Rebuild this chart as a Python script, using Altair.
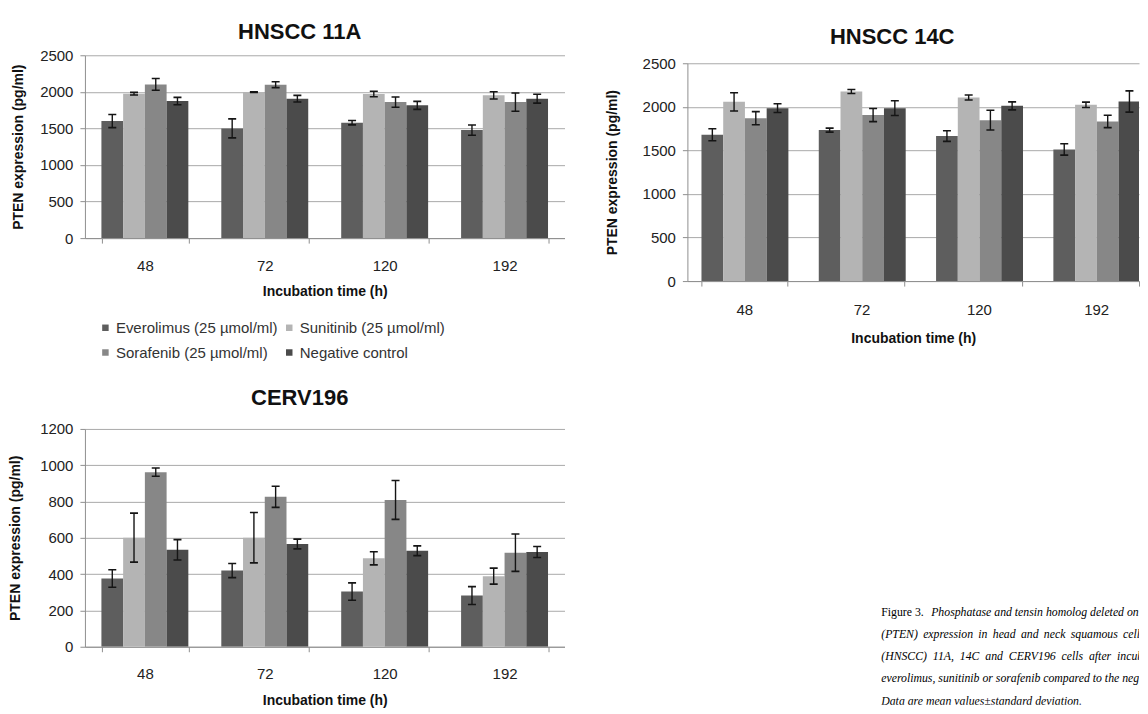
import altair as alt
import pandas as pd

FONT = "Liberation Sans"
SERIF = "Liberation Serif"

times = ["48", "72", "120", "192"]
treatments = ["Everolimus (25 µmol/ml)", "Sunitinib (25 µmol/ml)",
              "Sorafenib (25 µmol/ml)", "Negative control"]
bar_colors = ["#5e5e5e", "#b4b4b4", "#878787", "#4b4b4b"]

# HNSCC 11A (mean, SD) per incubation time
h11a_everolimus = [1600, 1500, 1578, 1477]
h11a_sunitinib = [1974, 1997, 1970, 1952]
h11a_sorafenib = [2102, 2098, 1860, 1860]
h11a_control = [1874, 1906, 1815, 1906]
h11a_everolimus_sd = [90, 130, 30, 70]
h11a_sunitinib_sd = [18, 5, 38, 50]
h11a_sorafenib_sd = [80, 40, 70, 125]
h11a_control_sd = [50, 45, 55, 60]

# HNSCC 14C
h14c_everolimus = [1679, 1733, 1664, 1511]
h14c_sunitinib = [2057, 2176, 2107, 2023]
h14c_sorafenib = [1870, 1905, 1847, 1832]
h14c_control = [1985, 1985, 2011, 2061]
h14c_everolimus_sd = [69, 23, 61, 65]
h14c_sunitinib_sd = [105, 23, 29, 31]
h14c_sorafenib_sd = [75, 75, 113, 71]
h14c_control_sd = [50, 84, 46, 122]

# CERV196
cerv_everolimus = [376, 420, 304, 282]
cerv_sunitinib = [601, 601, 487, 389]
cerv_sorafenib = [962, 826, 809, 518]
cerv_control = [534, 566, 529, 522]
cerv_everolimus_sd = [48, 39, 48, 49]
cerv_sunitinib_sd = [135, 139, 36, 44]
cerv_sorafenib_sd = [23, 58, 107, 103]
cerv_control_sd = [56, 27, 27, 30]

caption_label = ["Figure 3."]
caption_first = ["Phosphatase and tensin homolog deleted on chromosome 10"]
caption_lines = [
    "(PTEN) \u2009expression \u2009in \u2009head \u2009and \u2009neck \u2009squamous \u2009cell \u2009carcinoma",
    "(HNSCC)\u200211A,\u200214C\u2002and\u2002CERV196\u2002cells\u2002after\u2002incubation\u2002with",
    "everolimus, sunitinib or sorafenib compared to the negative control.",
    "Data are mean values\u00b1standard deviation.",
]


def make_df(means, sds):
    rows = []
    for ti, t in enumerate(times):
        for k, tr in enumerate(treatments):
            m = means[k][ti]
            s = sds[k][ti]
            rows.append({"time": t, "treatment": tr, "mean": m,
                         "lo": m - s, "hi": m + s})
    return pd.DataFrame(rows)


df_11a = make_df([h11a_everolimus, h11a_sunitinib, h11a_sorafenib, h11a_control],
                 [h11a_everolimus_sd, h11a_sunitinib_sd, h11a_sorafenib_sd, h11a_control_sd])
df_14c = make_df([h14c_everolimus, h14c_sunitinib, h14c_sorafenib, h14c_control],
                 [h14c_everolimus_sd, h14c_sunitinib_sd, h14c_sorafenib_sd, h14c_control_sd])
df_cerv = make_df([cerv_everolimus, cerv_sunitinib, cerv_sorafenib, cerv_control],
                  [cerv_everolimus_sd, cerv_sunitinib_sd, cerv_sorafenib_sd, cerv_control_sd])

GRID = "#a9a9a9"
AXIS = "#8f8f8f"


def panel(df, title, ymax, ystep, width, height, title_offset, title_dx, xlab_pad,
          xtitle_pad, ytitle_pad, xscale=None, yrange=None, legend=None):
    if xscale is None:
        xscale = dict(paddingInner=0.275, paddingOuter=0.1375)
    ys = dict(domain=[0, ymax], nice=False)
    if yrange is not None:
        ys["range"] = yrange
    yvalues = list(range(0, ymax + 1, ystep))
    xaxis = alt.Axis(title="Incubation time (h)", labelAngle=0, tickBand="extent",
                     domainColor=AXIS, tickColor=AXIS,
                     tickSize=5, labelFont=FONT, labelFontSize=15, labelColor="#222",
                     labelPadding=xlab_pad, titleFont=FONT, titleFontSize=14,
                     titleFontWeight="bold", titleColor="#111", titlePadding=xtitle_pad,
                     grid=False)
    yaxis = alt.Axis(title="PTEN expression (pg/ml)", values=yvalues,
                     format="d", grid=True, gridColor=GRID, gridWidth=1,
                     domainColor=AXIS, tickColor=AXIS, tickSize=5, labelFont=FONT,
                     labelFontSize=15, labelColor="#222", labelPadding=7, titleFont=FONT,
                     titleFontSize=14, titleFontWeight="bold", titleColor="#111",
                     titlePadding=ytitle_pad)
    yscale = alt.Scale(**ys)
    x = alt.X("time:N", sort=times, scale=alt.Scale(domain=times, **xscale), axis=xaxis)
    xo = alt.XOffset("treatment:N", sort=treatments,
                     scale=alt.Scale(domain=treatments, paddingInner=0, paddingOuter=0))
    color = alt.Color("treatment:N", sort=treatments,
                      scale=alt.Scale(domain=treatments, range=bar_colors),
                      legend=legend)
    base = alt.Chart(df)
    bars = base.mark_bar(clip=True).encode(
        x=x, xOffset=xo, y=alt.Y("mean:Q", scale=yscale, axis=yaxis), color=color)
    err = base.mark_rule(color="#151515", strokeWidth=1.4, clip=True).encode(
        x=x, xOffset=xo, y=alt.Y("lo:Q", scale=yscale, axis=yaxis), y2="hi:Q")
    cap_lo = base.mark_tick(orient="horizontal", size=8, thickness=1.6, color="#151515",
                            clip=True, opacity=1).encode(
        x=x, xOffset=xo, y=alt.Y("lo:Q", scale=yscale, axis=yaxis))
    cap_hi = base.mark_tick(orient="horizontal", size=8, thickness=1.6, color="#151515",
                            clip=True, opacity=1).encode(
        x=x, xOffset=xo, y=alt.Y("hi:Q", scale=yscale, axis=yaxis))
    return alt.layer(bars, err, cap_lo, cap_hi).properties(
        width=width, height=height,
        title=alt.Title(title, font=FONT, fontSize=22, fontWeight="bold", color="#111",
                        anchor="middle", frame="group", offset=title_offset, dx=title_dx),
    )


legend_11a = alt.Legend(orient="none", legendX=13, legendY=265, columns=2,
                        direction="horizontal", title=None,
                        symbolType="square", symbolSize=42, symbolStrokeWidth=0,
                        labelFont=FONT, labelFontSize=15, labelColor="#333",
                        labelOffset=3, rowPadding=9, columnPadding=3, labelLimit=400,
                        padding=0)

p1 = panel(df_11a, "HNSCC 11A", 2500, 500, 480, 183, title_offset=4, title_dx=-25,
           xlab_pad=15, xtitle_pad=11, ytitle_pad=14, legend=legend_11a)
p2 = panel(df_14c, "HNSCC 14C", 2500, 500, 452, 226, title_offset=6, title_dx=-21,
           xlab_pad=16, xtitle_pad=14, ytitle_pad=23, yrange=[226, 8],
           xscale=dict(paddingInner=0.27, paddingOuter=0.06, align=1))
p3 = panel(df_cerv, "CERV196", 1200, 200, 480, 218, title_offset=12, title_dx=-25,
           xlab_pad=15, xtitle_pad=12, ytitle_pad=17)

CAP_SIZE = 11.8
cap_y = alt.Y("line:Q", scale=alt.Scale(domain=[1, 5], range=[183, 272]), axis=None)
cap_label = alt.Chart(pd.DataFrame({"line": [1], "text": caption_label})).mark_text(
    align="left", baseline="middle", font=SERIF, fontSize=CAP_SIZE, color="#000", clip=True
).encode(x=alt.value(194), y=cap_y, text="text:N")
cap_first = alt.Chart(pd.DataFrame({"line": [1], "text": caption_first})).mark_text(
    align="left", baseline="middle", font=SERIF, fontSize=CAP_SIZE, fontStyle="italic",
    color="#000", clip=True
).encode(x=alt.value(244), y=cap_y, text="text:N")
cap_rest = alt.Chart(pd.DataFrame({"line": [2, 3, 4, 5], "text": caption_lines})).mark_text(
    align="left", baseline="middle", font=SERIF, fontSize=CAP_SIZE, fontStyle="italic",
    color="#000", clip=True
).encode(x=alt.value(194), y=cap_y, text="text:N")
caption = alt.layer(cap_label, cap_first, cap_rest).properties(width=452, height=276)

chart = alt.concat(
    p1, p2, p3, caption, columns=2, bounds="flush",
    spacing={"row": 148, "column": 123},
).resolve_scale(color="independent").properties(
    padding={"left": 0, "top": 13, "right": 0, "bottom": 0},
    background="white",
).configure_view(stroke=None)

chart.save("out.html", embed_options={"renderer": "svg", "actions": False})
